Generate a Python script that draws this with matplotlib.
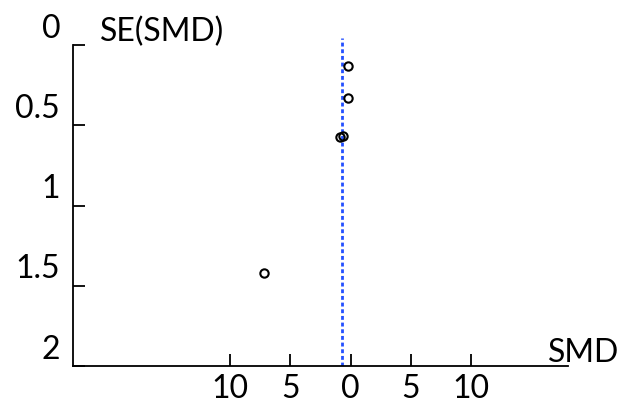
import matplotlib
matplotlib.use('Agg')
import matplotlib.pyplot as plt
from matplotlib.transforms import ScaledTranslation

# Funnel plot data (SMD vs standard error)
smd = [-0.2, -0.25, -0.9, -0.6, -7.2]
se_smd = [0.13, 0.33, 0.57, 0.565, 1.42]
pooled_smd = -0.7

x_ticks = [-10, -5, 0, 5, 10]
x_tick_labels = ['10', '5', '0', '5', '10']
y_ticks = [0, 0.5, 1, 1.5, 2]
y_tick_labels = ['0', '0.5', '1', '1.5', '2']

plt.rcParams['font.family'] = ['Lato', 'DejaVu Sans']

fig = plt.figure(figsize=(6.25, 4.07), dpi=100)
ax = fig.add_axes([0.1163, 0.1007, 0.7925, 0.8052])

# pooled estimate
ax.axvline(pooled_smd, color='#2450ff', linestyle=(0, (1.4, 1.0)), linewidth=2.0, zorder=1)

# studies
ax.plot(smd, se_smd, 'o', markerfacecolor='none', markeredgecolor='black',
        markersize=6, markeredgewidth=1.5, zorder=3)

ax.set_xlim(-23, 18)
ax.set_ylim(2, -0.042)

for side in ['top', 'right']:
    ax.spines[side].set_visible(False)
ax.spines['left'].set_bounds(0, 2)
for side in ['left', 'bottom']:
    ax.spines[side].set_linewidth(1.3)

ax.set_xticks(x_ticks)
ax.set_xticklabels(x_tick_labels)
ax.set_yticks(y_ticks)
ax.set_yticklabels(y_tick_labels)
ax.tick_params(direction='in', length=8.6, width=1.3, labelsize=23)
ax.tick_params(axis='x', pad=6)
ax.tick_params(axis='y', pad=9)

# y labels sit a bit above their ticks
for lab in ax.get_yticklabels():
    lab.set_transform(lab.get_transform() + ScaledTranslation(0, 14 / 72, fig.dpi_scale_trans))

ax.text(0.055, 0.99, 'SE(SMD)', transform=ax.transAxes, fontsize=23, va='baseline', ha='left')
ax.text(0.9597, 0.012, 'SMD', transform=ax.transAxes, fontsize=23, va='baseline', ha='left',
        clip_on=False)

fig.savefig('out.png', dpi=100)
